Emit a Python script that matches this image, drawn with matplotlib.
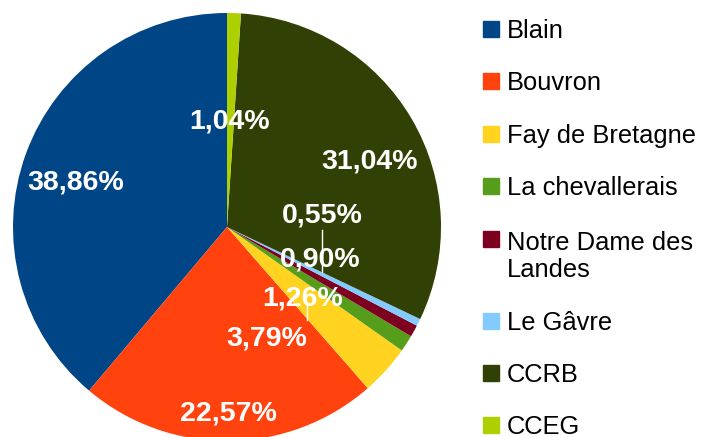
import matplotlib
matplotlib.use("Agg")
import matplotlib.pyplot as plt
from matplotlib.patches import Rectangle

plt.rcParams['font.family'] = ['Liberation Sans', 'DejaVu Sans']

communes = ["Blain", "Bouvron", "Fay de Bretagne", "La chevallerais",
            "Notre Dame des\nLandes", "Le Gâvre", "CCRB", "CCEG"]
shares = [38.86, 22.57, 3.79, 1.26, 0.90, 0.55, 31.04, 1.04]
colors = ["#004586", "#ff420e", "#ffd320", "#579d1c",
          "#7e0021", "#83caff", "#314004", "#aecf00"]

# label centres in pie units (radius 1)
label_pos = [(-0.706, 0.206), (0.009, -0.871), (0.187, -0.519), (0.355, -0.336),
             (0.435, -0.154), (0.444, 0.056), (0.664, 0.308), (0.013, 0.495)]
leaders = [((0.444, -0.014), (0.444, -0.210)),
           ((0.374, -0.350), (0.374, -0.435))]

W, H = 701, 437
fig = plt.figure(figsize=(W / 100, H / 100), dpi=100)
cx, cy, R = 227, 227, 214
ax = fig.add_axes([(cx - R) / W, (H - cy - R) / H, 2 * R / W, 2 * R / H])

ax.pie(shares, colors=colors, startangle=90, counterclock=True,
       wedgeprops=dict(linewidth=0))
ax.set_xlim(-1, 1)
ax.set_ylim(-1, 1)
ax.set_aspect('equal')
ax.axis('off')

for (a, b) in leaders:
    ax.plot([a[0], b[0]], [a[1], b[1]], color="white", lw=1, zorder=3)

for v, (x, y) in zip(shares, label_pos):
    txt = f"{v:.2f}".replace('.', ',') + "%"
    ax.text(x, y, txt, color="white", fontsize=20.5, fontweight="bold",
            ha="center", va="center", zorder=4)

# legend drawn by hand so the square sits on the first line of two-line names
line_step = 29.5
y = 29.0
for name, c in zip(communes, colors):
    extra = name.count("\n")
    fig.patches.append(Rectangle((483 / W, 1 - (y + 8) / H), 16 / W, 16 / H,
                                 transform=fig.transFigure, color=c))
    # baseline of a multi-line text is that of its last line
    fig.text(507 / W, 1 - (y + 9 + line_step * extra) / H, name, fontsize=18.4,
             color="#000000", ha="left", va="baseline", linespacing=1.16)
    y += 52.4 + line_step * extra

fig.savefig("out.png", dpi=100)
